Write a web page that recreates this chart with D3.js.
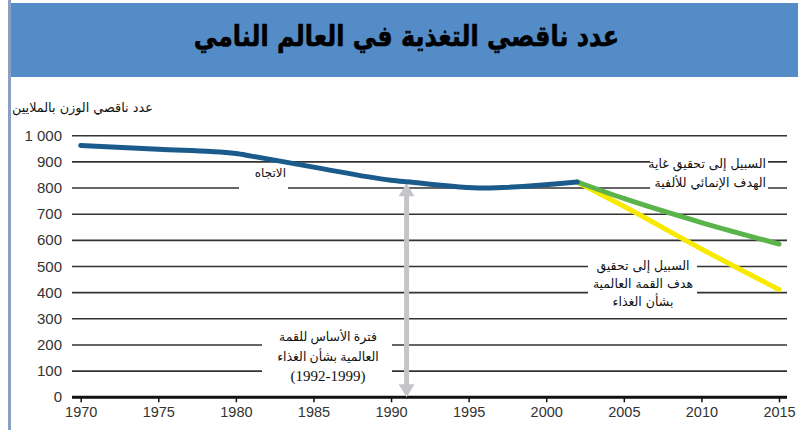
<!DOCTYPE html>
<html>
<head>
<meta charset="utf-8">
<script src="https://cdn.jsdelivr.net/npm/d3@7"></script>
<style>
  body { margin: 0; background: #fff; }
  svg { display: block; }
</style>
</head>
<body>
<svg id="chart" width="798" height="430"></svg>
<script>
// data (millions of undernourished people)
const trendYears = [1970, 1975, 1980, 1981, 1985, 1990, 1991, 1996, 2002];
const trendValues = [963, 948, 932, 922, 880, 830, 824, 800, 823];

const mdgYears = [2002, 2005, 2010, 2015];
const mdgValues = [823, 760, 668, 586];

const wfsYears = [2002, 2005, 2010, 2015];
const wfsValues = [823, 730, 567, 412];

const xTicks = [1970, 1975, 1980, 1985, 1990, 1995, 2000, 2005, 2010, 2015];
const yTicks = [0, 100, 200, 300, 400, 500, 600, 700, 800, 900, 1000];

const baseYear = 1991;
const baseTop = 818;

const title = 'عدد ناقصي التغذية في العالم النامي';
const yLabel = 'عدد ناقصي الوزن بالملايين';
const trendLabel = 'الاتجاه';
const mdgLabel = ['السبيل إلى تحقيق غاية', 'الهدف الإنمائي للألفية'];
const wfsLabel = ['السبيل إلى تحقيق', 'هدف القمة العالمية', 'بشأن الغذاء'];
const baseLabel = ['فترة الأساس للقمة', 'العالمية بشأن الغذاء', '(1992-1999)'];

const svg = d3.select('#chart');
const numFont = '"Liberation Sans Narrow", "Arial Narrow", "Liberation Sans", sans-serif';
const arFont = '"DejaVu Sans", sans-serif';

// frame + title band
svg.append('rect').attr('x', 11).attr('y', 3).attr('width', 787).attr('height', 74)
  .attr('fill', '#538cc6');
svg.append('line').attr('x1', 9.5).attr('x2', 9.5).attr('y1', 0).attr('y2', 430)
  .attr('stroke', '#8a9fc2').attr('stroke-width', 3);
svg.append('text')
  .attr('transform', 'translate(406.5,46) scale(0.84,1)')
  .attr('text-anchor', 'middle')
  .attr('font-family', arFont).attr('font-weight', 'bold').attr('font-size', 28.5)
  .attr('fill', '#000').attr('stroke', '#000').attr('stroke-width', 0.6)
  .text(title);

svg.append('text').attr('x', 12).attr('y', 112)
  .attr('font-family', arFont).attr('font-size', 12.8).attr('fill', '#111')
  .text(yLabel);

const x = d3.scaleLinear().domain([1970, 2015]).range([80.7, 779]);
const y = d3.scaleLinear().domain([0, 1000]).range([397.3, 135.7]);

const gridLeft = 72, gridRight = 787;

// gridlines
svg.append('g').selectAll('line')
  .data(yTicks.filter(d => d > 0))
  .enter().append('line')
  .attr('x1', gridLeft).attr('x2', gridRight)
  .attr('y1', d => y(d)).attr('y2', d => y(d))
  .attr('stroke', '#333').attr('stroke-width', 1.6);

// y tick labels
const fmt = d3.formatLocale({ decimal: '.', thousands: ' ', grouping: [3], currency: ['', ''] }).format(',');
svg.append('g').selectAll('text')
  .data(yTicks)
  .enter().append('text')
  .attr('x', 62).attr('y', d => y(d) + 5)
  .attr('text-anchor', 'end')
  .attr('font-family', numFont).attr('font-size', 15).attr('fill', '#333')
  .text(d => fmt(d));

// x axis
const xAxis = svg.append('g').attr('transform', `translate(0,${y(0)})`)
  .call(d3.axisBottom(x).tickValues(xTicks).tickFormat(d3.format('d')).tickSize(5).tickPadding(4));
xAxis.select('.domain').remove();
xAxis.selectAll('line').attr('stroke', '#111').attr('stroke-width', 1.5);
xAxis.selectAll('text').attr('font-family', numFont).attr('font-size', 14.5).attr('fill', '#333');
svg.append('line').attr('x1', gridLeft).attr('x2', gridRight)
  .attr('y1', y(0)).attr('y2', y(0))
  .attr('stroke', '#111').attr('stroke-width', 3);

// white boxes that break the gridlines behind labels
const boxes = [
  [239, 165, 49, 25],
  [650, 152, 118, 42],
  [588, 255, 109, 56],
  [262, 326, 130, 63]
];
svg.append('g').selectAll('rect')
  .data(boxes)
  .enter().append('rect')
  .attr('x', d => d[0]).attr('y', d => d[1]).attr('width', d => d[2]).attr('height', d => d[3])
  .attr('fill', '#fff');

// base period arrow
const arrowColor = '#c4c5c9';
const ax = x(baseYear);
svg.append('line').attr('x1', ax).attr('x2', ax)
  .attr('y1', y(baseTop) + 10).attr('y2', y(0) - 10)
  .attr('stroke', arrowColor).attr('stroke-width', 5);
svg.append('path')
  .attr('d', `M${ax},${y(baseTop)} l-8,13 l16,0 Z`)
  .attr('fill', arrowColor);
svg.append('path')
  .attr('d', `M${ax},${y(0)} l-8,-13 l16,0 Z`)
  .attr('fill', arrowColor);

// lines
const line = d3.line().x(d => x(d[0])).y(d => y(d[1])).curve(d3.curveMonotoneX);
svg.append('path').datum(d3.zip(wfsYears, wfsValues))
  .attr('d', line).attr('fill', 'none')
  .attr('stroke', '#f7ea00').attr('stroke-width', 5).attr('stroke-linecap', 'round');
svg.append('path').datum(d3.zip(mdgYears, mdgValues))
  .attr('d', line).attr('fill', 'none')
  .attr('stroke', '#5ab44a').attr('stroke-width', 5).attr('stroke-linecap', 'round');
svg.append('path').datum(d3.zip(trendYears, trendValues))
  .attr('d', line).attr('fill', 'none')
  .attr('stroke', '#1b5b8c').attr('stroke-width', 5).attr('stroke-linecap', 'round');

// labels
svg.append('text').attr('x', 286).attr('y', 177)
  .attr('text-anchor', 'end')
  .attr('font-family', arFont).attr('font-size', 12).attr('fill', '#111')
  .text(trendLabel);

svg.append('g').selectAll('text')
  .data(mdgLabel)
  .enter().append('text')
  .attr('x', 766).attr('y', (d, i) => 168 + i * 19)
  .attr('text-anchor', 'end')
  .attr('font-family', arFont).attr('font-size', 12.5).attr('fill', '#111')
  .text(d => d);

svg.append('g').selectAll('text')
  .data(wfsLabel)
  .enter().append('text')
  .attr('x', 643).attr('y', (d, i) => 270 + i * 18)
  .attr('text-anchor', 'middle')
  .attr('font-family', arFont).attr('font-size', 12.5).attr('fill', '#111')
  .text(d => d);

svg.append('g').selectAll('text')
  .data(baseLabel)
  .enter().append('text')
  .attr('x', 328).attr('y', (d, i) => 341 + i * 20)
  .attr('text-anchor', 'middle')
  .attr('font-family', '"Liberation Serif", "DejaVu Sans", serif')
  .attr('font-size', (d, i) => i === 2 ? 15 : 12.5).attr('fill', '#111')
  .text(d => d);
</script>
</body>
</html>
